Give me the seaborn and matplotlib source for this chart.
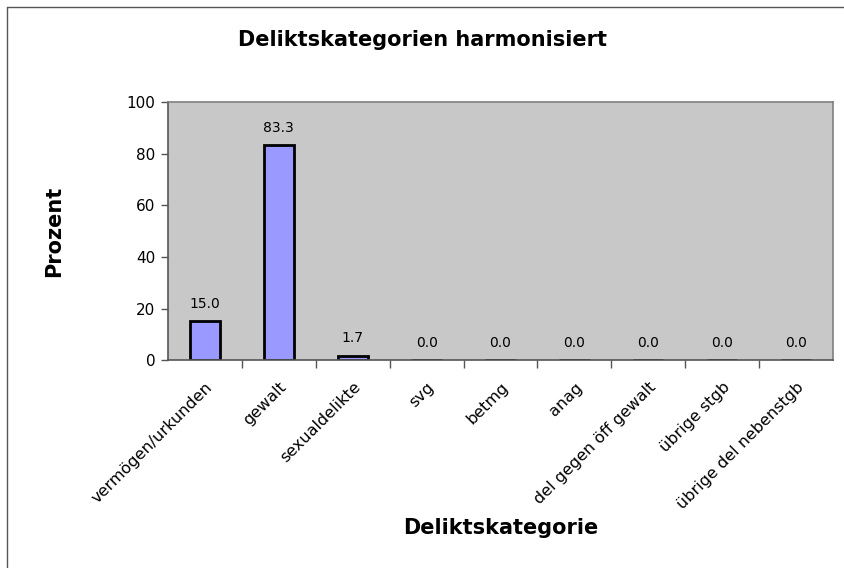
import pandas as pd
import matplotlib
matplotlib.use("Agg")
import matplotlib.pyplot as plt
import seaborn as sns
from matplotlib.lines import Line2D

categories = ["vermögen/urkunden", "gewalt", "sexualdelikte", "svg", "betmg",
              "anag", "del gegen öff gewalt", "übrige stgb", "übrige del nebenstgb"]
values = [15.0, 83.3, 1.7, 0.0, 0.0, 0.0, 0.0, 0.0, 0.0]
yticks = [0, 20, 40, 60, 80, 100]

df = pd.DataFrame({"kategorie": categories, "prozent": values})

sns.set_theme(style="white")
plt.rcParams['font.family'] = ['DejaVu Sans']
plt.rcParams['text.color'] = 'black'
plt.rcParams['axes.labelcolor'] = 'black'
plt.rcParams['xtick.color'] = 'black'
plt.rcParams['ytick.color'] = 'black'

fig = plt.figure(figsize=(8.44, 5.68), dpi=100)
ax = fig.add_axes([0.199, 0.366, 0.788, 0.454])

sns.barplot(data=df, x="kategorie", y="prozent", color="#9999ff",
            edgecolor="black", linewidth=2, width=0.41, saturation=1, ax=ax)

ax.set_facecolor("#c8c8c8")
ax.set_ylim(0, 100)
ax.set_xlim(-0.5, len(categories) - 0.5)
ax.set_yticks(yticks)
ax.tick_params(axis="y", labelsize=11, length=5, width=1, color="#555555",
               left=True, pad=4)

# tick marks between categories, labels at centers
ax.set_xticks([i + 0.5 for i in range(len(categories) - 1)], minor=True)
ax.set_xticks(range(len(categories)))
ax.set_xticklabels(categories, rotation=45, ha="right", rotation_mode="anchor",
                   fontsize=11.5)
ax.tick_params(axis="x", which="major", length=0, pad=14)
ax.tick_params(axis="x", which="minor", length=6, width=1, color="#555555",
               direction="out", bottom=True)

for side in ["left", "bottom"]:
    ax.spines[side].set_color("#555555")
    ax.spines[side].set_linewidth(1.2)
for side in ["top", "right"]:
    ax.spines[side].set_color("#808080")
    ax.spines[side].set_linewidth(1.2)

for i, v in enumerate(values):
    ax.text(i, v + 4, f"{v:.1f}", ha="center", va="bottom", fontsize=10)

ax.set_xlabel("Deliktskategorie", fontsize=15, fontweight="bold", labelpad=4)
ax.set_ylabel("Prozent", fontsize=15, fontweight="bold", labelpad=45)
fig.text(0.5, 0.930, "Deliktskategorien harmonisiert", ha="center", va="center",
         fontsize=15, fontweight="bold")

# outer chart frame (left and top edges visible)
fig.add_artist(Line2D([7 / 844, 7 / 844], [0, 1 - 7 / 568], color="#555555",
                      lw=1, transform=fig.transFigure))
fig.add_artist(Line2D([7 / 844, 1], [1 - 7 / 568, 1 - 7 / 568], color="#555555",
                      lw=1, transform=fig.transFigure))

plt.savefig("out.png", dpi=100)
plt.close()
